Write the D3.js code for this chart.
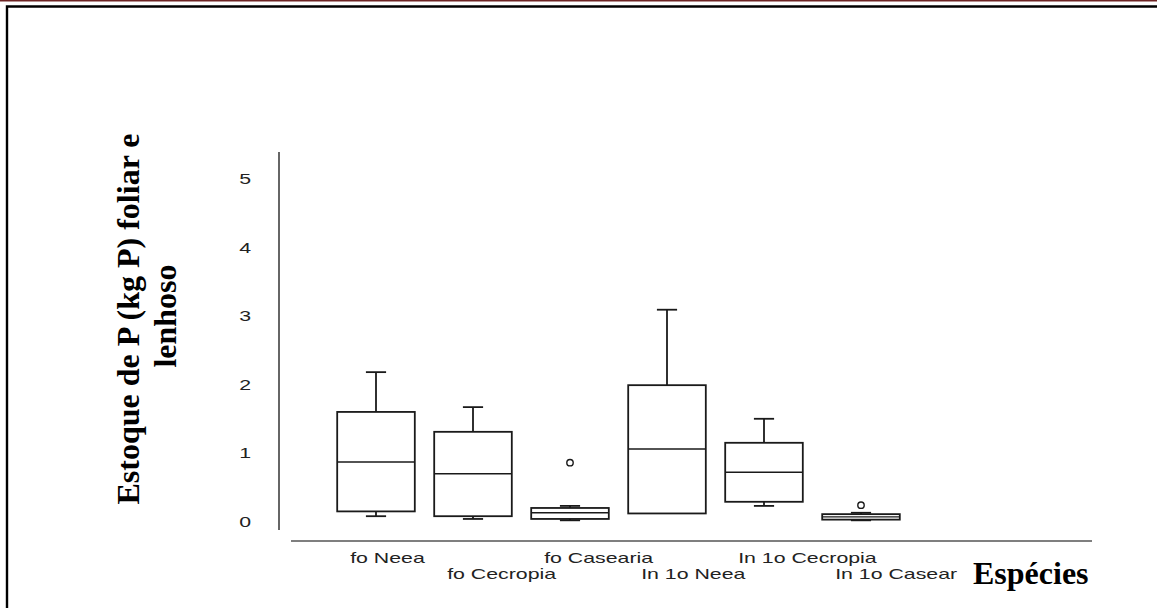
<!DOCTYPE html>
<html>
<head>
<meta charset="utf-8">
<script src="https://cdn.jsdelivr.net/npm/d3@7"></script>
<style>
  html, body { margin: 0; padding: 0; background: #fff; }
  svg { display: block; }
</style>
</head>
<body>
<svg id="chart" width="1157" height="608"></svg>
<script>
// Phosphorus stock (kg P) in leaves and wood, by species
const categories = ["fo Neea", "fo Cecropia", "fo Casearia", "In 1o Neea", "In 1o Cecropia", "In 1o Casear"];
const lowWhisker  = [0.07, 0.03, 0.01, 0.125, 0.22, 0.01];
const q1          = [0.14, 0.07, 0.03, 0.11, 0.28, 0.02];
const medians     = [0.86, 0.69, 0.12, 1.05, 0.71, 0.06];
const q3          = [1.59, 1.30, 0.19, 1.98, 1.14, 0.10];
const highWhisker = [2.17, 1.66, 0.22, 3.08, 1.49, 0.12];
const outliers    = [[], [], [0.85], [], [], [0.23]];
const yTicks = [0, 1, 2, 3, 4, 5];

const svg = d3.select("#chart");
const W = 1157, H = 608;

// page frame
svg.append("rect").attr("x", 0).attr("y", 0).attr("width", W).attr("height", 1.5).attr("fill", "#6e2424");
svg.append("path").attr("d", `M7,${H} V6.5 H${W}`).attr("fill", "none").attr("stroke", "#000").attr("stroke-width", 2.4);

const y = d3.scaleLinear().domain([0, 5]).range([521, 178]);
const x = d3.scaleBand().domain(categories).range([327.5, 909.5]).paddingInner(0.2).paddingOuter(0.1);
const bw = x.bandwidth();
const capW = bw * 0.26;
const sx = 1.42; // horizontal stretch of the sans labels

const labelFont = "'Liberation Sans', Arial, sans-serif";

// y axis
const yAxisX = 279;
svg.append("line").attr("x1", yAxisX).attr("x2", yAxisX).attr("y1", 152).attr("y2", 530)
  .attr("stroke", "#333").attr("stroke-width", 1.5);
const yAxis = d3.axisLeft(y).tickValues(yTicks).tickSize(0).tickFormat(d3.format("d"));
const gy = svg.append("g").attr("transform", `translate(${yAxisX},0)`).call(yAxis);
gy.select(".domain").remove();
gy.selectAll("text")
  .attr("x", -28 / sx)
  .attr("dy", "0.36em")
  .attr("transform", `scale(${sx},1)`)
  .attr("font-family", labelFont)
  .attr("font-size", 15)
  .attr("fill", "#222")
  .attr("text-anchor", "end");

// x axis line
svg.append("line").attr("x1", 291).attr("x2", 1092).attr("y1", 541).attr("y2", 541)
  .attr("stroke", "#555").attr("stroke-width", 1.6);

// staggered category labels
categories.forEach((c, i) => {
  svg.append("g")
    .attr("transform", `translate(${x(c) + 13},${i % 2 === 0 ? 563 : 579}) scale(${sx},1)`)
    .append("text")
    .attr("font-family", labelFont)
    .attr("font-size", 15)
    .attr("fill", "#222")
    .text(c);
});

// boxes
const stroke = "#1a1a1a", sw = 1.8;
categories.forEach((c, i) => {
  const g = svg.append("g");
  const cx = x(c) + bw / 2;
  // whiskers
  g.append("line").attr("x1", cx).attr("x2", cx).attr("y1", y(q3[i])).attr("y2", y(highWhisker[i]))
    .attr("stroke", stroke).attr("stroke-width", sw);
  g.append("line").attr("x1", cx).attr("x2", cx).attr("y1", y(q1[i])).attr("y2", y(lowWhisker[i]))
    .attr("stroke", stroke).attr("stroke-width", sw);
  g.append("line").attr("x1", cx - capW / 2).attr("x2", cx + capW / 2).attr("y1", y(highWhisker[i])).attr("y2", y(highWhisker[i]))
    .attr("stroke", stroke).attr("stroke-width", sw);
  g.append("line").attr("x1", cx - capW / 2).attr("x2", cx + capW / 2).attr("y1", y(lowWhisker[i])).attr("y2", y(lowWhisker[i]))
    .attr("stroke", stroke).attr("stroke-width", sw);
  // box
  g.append("rect").attr("x", x(c)).attr("width", bw)
    .attr("y", y(q3[i])).attr("height", y(q1[i]) - y(q3[i]))
    .attr("fill", "#fff").attr("stroke", stroke).attr("stroke-width", sw);
  // median
  g.append("line").attr("x1", x(c)).attr("x2", x(c) + bw).attr("y1", y(medians[i])).attr("y2", y(medians[i]))
    .attr("stroke", stroke).attr("stroke-width", sw * 0.8);
  // outliers
  g.selectAll("circle").data(outliers[i]).join("circle")
    .attr("cx", cx).attr("cy", d => y(d)).attr("r", 3.2)
    .attr("fill", "none").attr("stroke", stroke).attr("stroke-width", 1.4);
});

// axis titles
const title = svg.append("text")
  .attr("transform", "translate(0,0) rotate(-90)")
  .attr("font-family", "'Liberation Serif', 'Times New Roman', serif")
  .attr("font-weight", "bold")
  .attr("font-size", 32)
  .attr("fill", "#000")
  .attr("text-anchor", "middle");
title.append("tspan").attr("x", -319).attr("y", 139).text("Estoque de P (kg P) foliar e");
title.append("tspan").attr("x", -316).attr("y", 176).text("lenhoso");

svg.append("text")
  .attr("x", 973).attr("y", 584)
  .attr("font-family", "'Liberation Serif', 'Times New Roman', serif")
  .attr("font-weight", "bold")
  .attr("font-size", 32)
  .attr("fill", "#000")
  .text("Espécies");
</script>
</body>
</html>
